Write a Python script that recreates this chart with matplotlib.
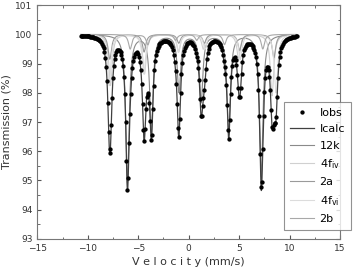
import numpy as np
import matplotlib
matplotlib.use("Agg")
import matplotlib.pyplot as plt

# Sub-spectra: line positions (mm/s), line depths (%), width (mm/s)
names = ["12k", "4f$_{\\rm iv}$", "2a", "4f$_{\\rm vi}$", "2b"]
pos_12k = [-6.07, -3.70, -0.96, 1.24, 3.97, 7.20]
dep_12k = [5.05, 3.25, 1.95, 2.3, 3.4, 4.85]
pos_4fiv = [-7.75, -4.38, -1.00, 1.45, 4.95, 8.27]
dep_4fiv = [1.75, 1.35, 0.6, 0.5, 0.85, 2.1]
pos_2a = [-7.82, -4.42, -0.98, 1.55, 5.05, 8.45]
dep_2a = [0.85, 0.6, 0.3, 0.3, 0.55, 0.8]
pos_4fvi = [-7.88, -4.45, -1.02, 1.62, 5.12, 8.66]
dep_4fvi = [1.75, 1.35, 0.6, 0.5, 0.85, 2.0]
pos_2b = [-5.80, -4.05, -1.30, 0.80, 3.55, 7.35]
dep_2b = [0.5, 0.35, 0.2, 0.2, 0.35, 0.5]
widths = [0.40, 0.40, 0.40, 0.40, 0.40]
comp_colors = ["#8a8a8a", "#d0d0d0", "#9a9a9a", "#dcdcdc", "#a8a8a8"]

v_min, v_max, n_chan = -10.7, 10.7, 256

comps = [(pos_12k, dep_12k), (pos_4fiv, dep_4fiv), (pos_2a, dep_2a),
         (pos_4fvi, dep_4fvi), (pos_2b, dep_2b)]


def sextet(v, pos, dep, w):
    out = np.zeros_like(v)
    for c, d in zip(pos, dep):
        out += d / (1.0 + ((v - c) / (w / 2.0)) ** 2)
    return out


plt.rcParams['font.family'] = ['DejaVu Sans']
fig = plt.figure(figsize=(3.53, 2.70), dpi=100)
ax = fig.add_axes([0.106, 0.115, 0.857, 0.866])

vf = np.linspace(v_min, v_max, 1200)
vc = np.linspace(v_min, v_max, n_chan)
total_f = np.zeros_like(vf)
total_c = np.zeros_like(vc)
comp_lines = []
for (p, d), w, col, nm in zip(comps, widths, comp_colors, names):
    s = sextet(vf, p, d, w)
    total_f += s
    total_c += sextet(vc, p, d, w)
    ln, = ax.plot(vf, 100 - s, color=col, lw=0.8, label=nm, zorder=1)
    comp_lines.append(ln)

obs, = ax.plot(vc, 100 - total_c, 'o', color='black', ms=2.1, label='Iobs', zorder=3)
calc, = ax.plot(vf, 100 - total_f, color='#404040', lw=0.9, label='Icalc', zorder=2)

ax.set_xlim(-15, 15)
ax.set_ylim(93, 101)
ax.set_xticks(np.arange(-15, 16, 5))
ax.set_xticks(np.arange(-15, 15.1, 2.5), minor=True)
ax.set_yticks(np.arange(93, 101.1, 1))
ax.set_yticks(np.arange(93, 101.1, 0.5), minor=True)
ax.tick_params(which='both', direction='in', top=True, right=True,
               colors='#555555', labelcolor='#333333', labelsize=6.5)
ax.tick_params(which='major', length=3)
ax.tick_params(which='minor', length=1.8)
for sp in ax.spines.values():
    sp.set_color('#777777')
    sp.set_linewidth(0.8)

ax.set_ylabel('Transmission (%)', fontsize=8, color='#333333', labelpad=3)
ax.set_xlabel('V e l o c i t y (mm/s)', fontsize=8, color='#333333', labelpad=3)

leg = ax.legend([obs, calc] + comp_lines, ['Iobs', 'Icalc'] + names,
                loc='upper left', bbox_to_anchor=(0.815, 0.585),
                fontsize=8, frameon=True, fancybox=False, handlelength=2.2,
                handletextpad=0.5, labelspacing=0.58, borderpad=0.5,
                borderaxespad=0.0)
leg.get_frame().set_edgecolor('#777777')
leg.get_frame().set_linewidth(0.8)
leg.set_zorder(5)

fig.savefig('out.png', dpi=100)
